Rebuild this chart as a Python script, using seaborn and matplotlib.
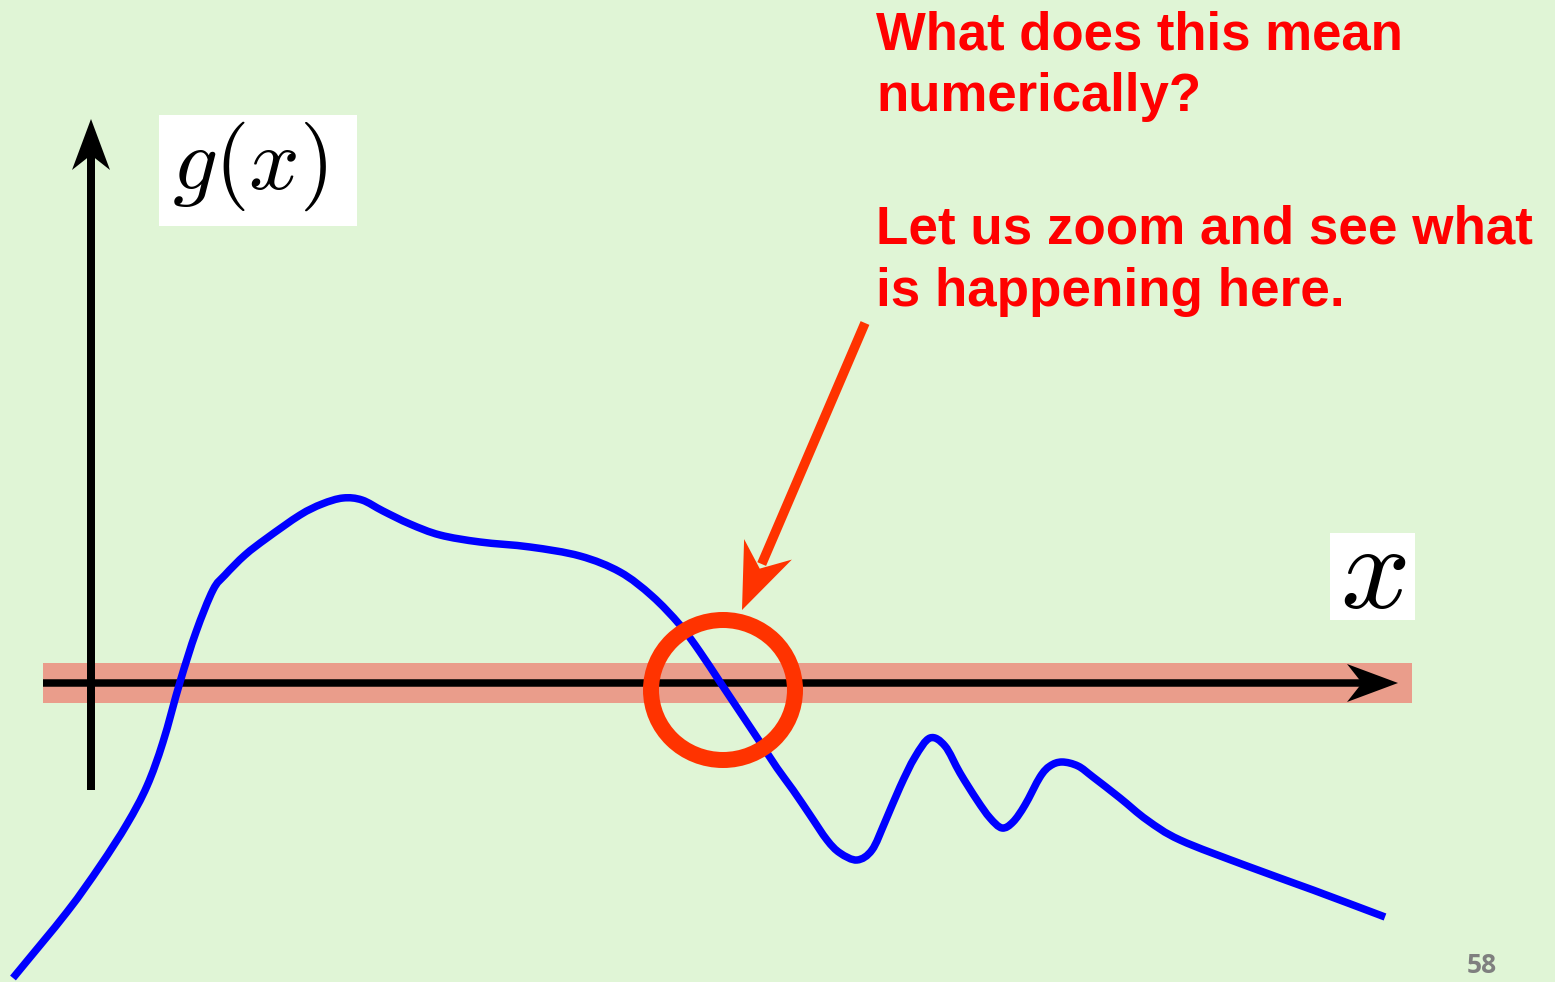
import matplotlib
matplotlib.use("Agg")
import matplotlib.pyplot as plt
from matplotlib.patches import Ellipse, Polygon, Rectangle, PathPatch
from matplotlib.path import Path
import numpy as np
import pandas as pd
import seaborn as sns

# ---- data -------------------------------------------------------------
# sketch of g(x): x positions and function values (axis units)
curve_x = [-0.78, -0.24, 0.09, 0.36, 0.56, 0.72, 0.89, 1.05, 1.22, 1.34,
           1.54, 1.76, 2.09, 2.31, 2.52, 2.71, 2.92, 3.19, 3.49, 3.89,
           4.39, 4.89, 5.29, 5.61, 5.89, 6.09, 6.29, 6.51, 6.69, 6.86,
           7.02, 7.19, 7.36, 7.49, 7.66, 7.81, 7.94, 8.09, 8.24, 8.39,
           8.54, 8.69, 8.86, 8.99, 9.11, 9.22, 9.34, 9.49, 9.59, 9.71,
           9.87, 10.02, 10.29, 10.56, 10.89, 11.56, 12.22, 12.94]
curve_g = [-2.95, -2.29, -1.83, -1.41, -1.03, -0.59, 0.01, 0.51, 0.93, 1.08,
           1.28, 1.45, 1.68, 1.79, 1.85, 1.83, 1.72, 1.59, 1.48, 1.41,
           1.36, 1.27, 1.11, 0.87, 0.58, 0.31, 0.01, -0.32, -0.59, -0.85,
           -1.07, -1.32, -1.57, -1.70, -1.77, -1.67, -1.39, -1.04, -0.74, -0.55,
           -0.63, -0.90, -1.17, -1.35, -1.45, -1.39, -1.22, -0.94, -0.83, -0.79,
           -0.83, -0.94, -1.15, -1.37, -1.57, -1.83, -2.07, -2.34]

question_lines = ["What does this mean", "numerically?"]
zoom_lines = ["Let us zoom and see what", "is happening here."]
page_label = "58"

# ---- style ------------------------------------------------------------
BG = "#E0F5D6"
BAND = "#EA9D8B"
HILITE = "#FF3300"
TEXT_RED = "#FF0000"

sns.set_style("white", rc={"axes.facecolor": BG, "figure.facecolor": BG})
plt.rcParams["font.family"] = ["Liberation Sans", "DejaVu Sans"]
plt.rcParams["mathtext.fontset"] = "cm"

fig = plt.figure(figsize=(15.55, 9.82), dpi=100)
ax = fig.add_axes([0, 0, 1, 1])
ax.set_xlim(-0.91, 14.64)
ax.set_ylim(-2.99, 6.83)
fig.patch.set_facecolor(BG)

PX = 0.72  # points per pixel at 100 dpi


def notched_head(tip, direction, length, half_width, notch):
    """Arrow head polygon pointing at `tip`; `direction` points back along the shaft."""
    u = np.asarray(direction, float)
    u = u / np.hypot(*u)
    n = np.array([-u[1], u[0]])
    tip = np.asarray(tip, float)
    return [tip,
            tip + length * u + half_width * n,
            tip + notch * u,
            tip + length * u - half_width * n]


def smooth_path(xy):
    """Cubic Bezier path passing through every vertex (Catmull-Rom tangents)."""
    xy = np.asarray(xy, float)
    ext = np.vstack([2 * xy[0] - xy[1], xy, 2 * xy[-1] - xy[-2]])
    verts = [xy[0]]
    codes = [Path.MOVETO]
    for i in range(1, len(ext) - 2):
        p0, p1, p2, p3 = ext[i - 1], ext[i], ext[i + 1], ext[i + 2]
        verts += [p1 + (p2 - p0) / 6, p2 - (p3 - p1) / 6, p2]
        codes += [Path.CURVE4] * 3
    return Path(verts, codes)


# highlighted band around the x axis
ax.fill_between([-0.48, 13.21], -0.20, 0.20, color=BAND, lw=0, zorder=1)

# x axis with arrow head
ax.plot([-0.48, 12.75], [0, 0], color="black", lw=7.5 * PX,
        solid_capstyle="butt", zorder=2)
ax.add_patch(Polygon(notched_head((13.07, 0), (-1, 0), 0.51, 0.19, 0.36),
                     closed=True, fc="black", ec="none", zorder=2))

# g axis with arrow head
ax.plot([0, 0], [-1.07, 5.30], color="black", lw=8 * PX,
        solid_capstyle="butt", zorder=2)
ax.add_patch(Polygon(notched_head((0, 5.64), (0, -1), 0.51, 0.19, 0.36),
                     closed=True, fc="black", ec="none", zorder=2))

# the function: seaborn places the line, drawn as a smooth stroke through its vertices
df = pd.DataFrame({"x": curve_x, "g": curve_g})
sns.lineplot(data=df, x="x", y="g", sort=False, color="#0000FF",
             lw=7.5 * PX, ax=ax, zorder=3)
curve_line = ax.get_lines()[-1]
curve_line.set_visible(False)
ax.add_patch(PathPatch(smooth_path(curve_line.get_xydata()), fill=False,
                       ec=curve_line.get_color(), lw=curve_line.get_linewidth(),
                       capstyle="butt", joinstyle="round", zorder=3))
ax.axis("off")

# circle marking the crossing
ax.add_patch(Ellipse((6.32, -0.07), 1.44, 1.40, fill=False, ec=HILITE,
                     lw=16 * PX, zorder=4))

# pointer arrow
tip = np.array([6.51, 0.73])
start = np.array([7.74, 3.60])
u = (start - tip) / np.hypot(*(start - tip))
neck = tip + 0.50 * u
ax.plot([start[0], neck[0]], [start[1], neck[1]], color=HILITE, lw=9.5 * PX,
        solid_capstyle="butt", zorder=4)
ax.add_patch(Polygon(notched_head(tip, u, 0.66, 0.26, 0.45), closed=True,
                     fc=HILITE, ec="none", zorder=4))

# axis labels on white cards
ax.add_patch(Rectangle((0.68, 4.57), 1.98, 1.11, fc="white", ec="none", zorder=2))
ax.text(1.59, 5.17, r"$g(x)$", fontsize=64, ha="center", va="center",
        color="black", zorder=3)
ax.add_patch(Rectangle((12.39, 0.63), 0.85, 0.87, fc="white", ec="none", zorder=2))
ax.text(12.82, 1.07, r"$x$", fontsize=88, ha="center", va="center",
        color="black", zorder=3)

# commentary
for line, base in zip(question_lines, [6.33, 5.72]):
    ax.text(7.85, base, line, fontsize=38, fontweight="bold", color=TEXT_RED,
            ha="left", va="baseline", zorder=5)
for line, base in zip(zoom_lines, [4.40, 3.77]):
    ax.text(7.85, base, line, fontsize=38.2, fontweight="bold", color=TEXT_RED,
            ha="left", va="baseline", zorder=5)

# page number
ax.text(13.76, -2.90, page_label, fontsize=19, fontweight="bold",
        family=["Open Sans", "DejaVu Sans"], color="#7F7F7F",
        ha="left", va="baseline", zorder=5)

fig.savefig("out.png", dpi=100, facecolor=BG)
